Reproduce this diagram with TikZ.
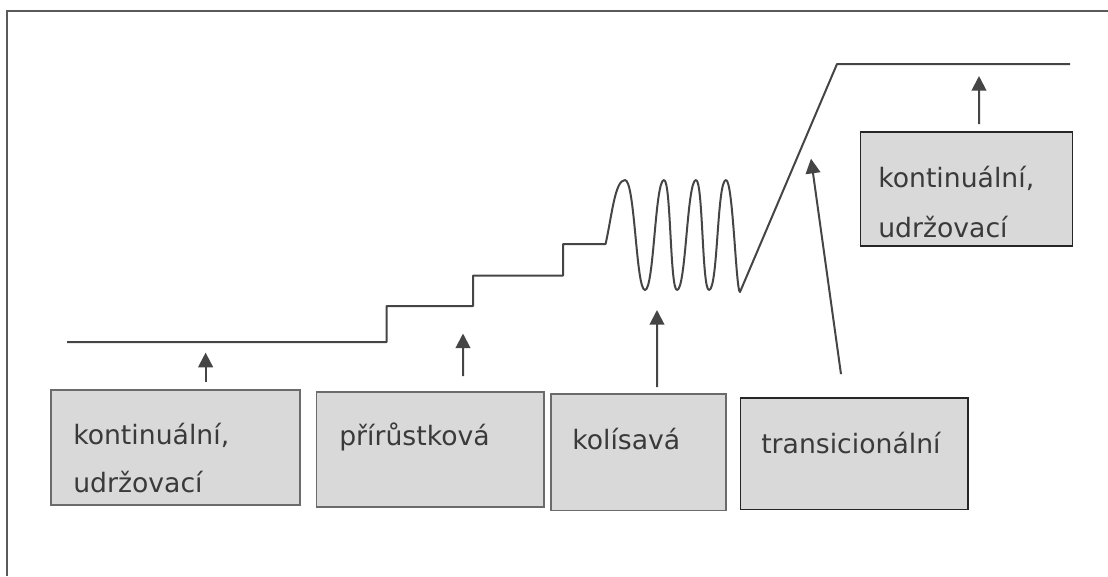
\documentclass[tikz,border=0pt]{standalone}
\usepackage{fontspec}
\setmainfont{DejaVu Sans}
\usetikzlibrary{arrows.meta,fit}
\definecolor{ink}{HTML}{454545}
\definecolor{boxfill}{HTML}{D9D9D9}
\definecolor{txt}{HTML}{3A3A3A}
\definecolor{framegray}{HTML}{5A5A5A}
\tikzset{
  stage/.style={draw=#1, fill=boxfill, line width=1.3pt, rectangle, inner sep=0pt},
  boxtext/.style={anchor=base west, inner sep=0pt, text=txt,
                  font=\fontsize{20}{24}\selectfont},
  pointer/.style={draw=ink, line width=1.5pt,
                  -{Triangle[length=11pt,width=11pt]}},
  curve/.style={draw=ink, line width=1.5pt, line join=round},
  frameline/.style={draw=framegray, line width=1.5pt}
}
\begin{document}
\begin{tikzpicture}[x=0.75pt,y=-0.75pt]
  \useasboundingbox (0,0) rectangle (1108,576);

  % outer frame (top and left edges)
  \draw[frameline] (1108,11) -- (7,11) -- (7,576);

  % course of the development: flat, stepwise, oscillating, transition, flat
  \draw[curve] (67,342) -- (386.5,342) -- (386.5,306) -- (473,306)
    -- (473,275.5) -- (563,275.5) -- (563,244) -- (605.6,244)
    .. controls (612,215) and (615,180) .. (625,180)
    .. controls (635,180) and (636,290) .. (645,290)
    .. controls (654,290) and (655,180) .. (664,180)
    .. controls (671,180) and (670,290) .. (677,290)
    .. controls (686,290) and (687,180) .. (696,180)
    .. controls (703,180) and (702,290) .. (709,290)
    .. controls (718,290) and (717,180) .. (726,180)
    .. controls (733,180) and (736,292) .. (740,292)
    -- (837,64) -- (1070,64);

  % category boxes
  \node[stage=framegray!90, fit={(51,390) (300,505)}] (b1) {};
  \node[stage=framegray!90, fit={(316.6,392) (544,507)}] (b2) {};
  \node[stage=framegray!90, fit={(551,394) (725.7,510.5)}] (b3) {};
  \node[stage=black!85, fit={(740.5,398) (968,509.5)}] (b4) {};
  \node[stage=black!85, fit={(860.6,132) (1072.6,246)}] (b5) {};

  % box labels
  \node[boxtext] (b1l1) at (73,444.5) {kontinuální,};
  \node[boxtext] (b1l2) at (73,492) {udržovací};
  \node[boxtext] (b2l1) at (339,445) {přírůstková};
  \node[boxtext] (b3l1) at (572,449) {kolísavá};
  \node[boxtext] (b4l1) at (761,453.6) {transicionální};
  \node[boxtext] (b5l1) at (878,187) {kontinuální,};
  \node[boxtext] (b5l2) at (878,237) {udržovací};

  % arrow tips on the curve
  \coordinate (t1) at (205.6,352.6);
  \coordinate (t2) at (463,333.5);
  \coordinate (t3) at (657,310);
  \coordinate (t4) at (811,158.7);
  \coordinate (t5) at (979,76);

  % arrows from each box to its part of the curve
  \draw[pointer] (b1.north) ++(30.1,-7.3) -- (t1);
  \draw[pointer] (b2.north) ++(32.7,-15) -- (t2);
  \draw[pointer] (b3.north) ++(18.65,-6) -- (t3);
  \draw[pointer] (b4.north) ++(-13.25,-23) -- (t4);
  \draw[pointer] (b5.north) ++(12.4,-7) -- (t5);
\end{tikzpicture}
\end{document}
